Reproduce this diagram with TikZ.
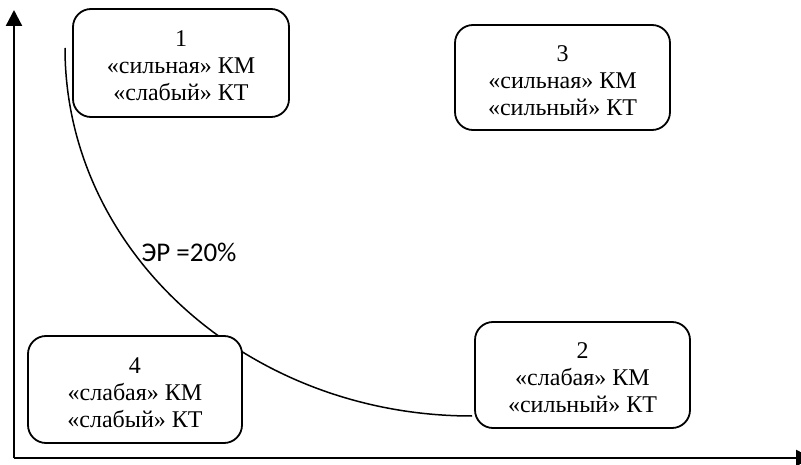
\documentclass[tikz,border=0pt]{standalone}
\usepackage{fontspec}
\setmainfont{Liberation Serif}
\newfontfamily\lblfont{Carlito}
\usetikzlibrary{arrows.meta}
\begin{document}
\begin{tikzpicture}[x=1pt,y=1pt,
  quad/.style={draw=black, line width=1.8pt, fill=white, rounded corners=18pt, inner sep=0pt},
  quadtext/.style={align=center, inner sep=0pt, font=\fontsize{24}{27}\selectfont},
  axis/.style={line width=2.4pt, -{Triangle[length=16pt,width=16pt]}},
  curve/.style={line width=1.5pt}]
\clip (0,0) rectangle (801,464);
\fill[white] (0,0) rectangle (801,464);
% axes
\coordinate (O) at (14,6);
\coordinate (Ytop) at (14,454);
\coordinate (Xend) at (812,6);
\draw[axis] (O) -- (Ytop);
\draw[axis] (O) -- (Xend);
% curve
\coordinate (cs) at (65,416);
\draw[curve] (cs) arc[start angle=180, end angle=270, x radius=407, y radius=368];
\node[font=\lblfont\fontsize{27}{30}\selectfont] (er) at (189,212) {ЭР =20\%};
% boxes
\node[quad, minimum width=216pt, minimum height=108pt] (b1) at (181,401) {};
\node[quadtext] (t1) at ([yshift=-3pt]b1.center) {1\\«сильная» КМ\\«слабый» КТ};
\node[quad, minimum width=215pt, minimum height=105pt] (b3) at (562.5,386.5) {};
\node[quadtext] (t3) at ([yshift=-3pt]b3.center) {3\\«сильная» КМ\\«сильный» КТ};
\node[quad, minimum width=214pt, minimum height=107pt] (b4) at (135,74.5) {};
\node[quadtext] (t4) at ([yshift=-3pt]b4.center) {4\\«слабая» КМ\\«слабый» КТ};
\node[quad, minimum width=215pt, minimum height=106pt] (b2) at (582.5,89) {};
\node[quadtext] (t2) at ([yshift=-3pt]b2.center) {2\\«слабая» КМ\\«сильный» КТ};
\end{tikzpicture}
\end{document}
